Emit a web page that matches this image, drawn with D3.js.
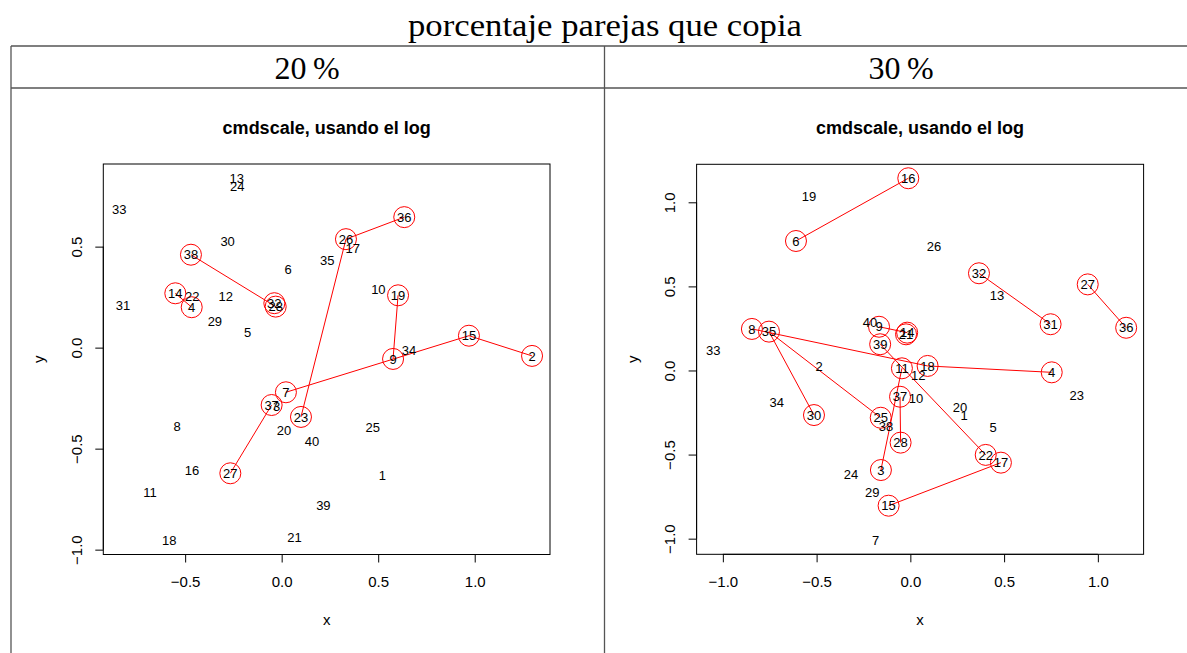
<!DOCTYPE html>
<html>
 <head>
 <title>cmdscale</title>
 <meta charset="UTF-8">
 <style type="text/css">
   body { margin: 0; background: #fff; }
   text { font-family: "Liberation Sans", Arial, sans-serif; }
 </style>
 <script src="https://d3js.org/d3.v7.min.js"></script>
 </head>
 <body>
 <script type="text/javascript">

    // point labels (same 40 individuals in both panels)
    var ids = [1,2,3,4,5,6,7,8,9,10,11,12,13,14,15,16,17,18,19,20,
               21,22,23,24,25,26,27,28,29,30,31,32,33,34,35,36,37,38,39,40];

    // 20% panel coordinates
    var x20 = [0.521,1.297,-0.026,-0.466,-0.176,0.034,0.022,-0.542,0.577,0.501,
               -0.682,-0.290,-0.233,-0.551,0.970,-0.465,0.368,-0.582,0.603,0.012,
               0.067,-0.463,0.100,-0.230,0.472,0.333,-0.266,-0.031,-0.346,-0.280,
               -0.822,-0.038,-0.841,0.660,0.236,0.635,-0.052,-0.470,0.216,0.157];
    var y20 = [-0.634,-0.041,-0.292,0.200,0.074,0.386,-0.221,-0.391,-0.056,0.287,
               -0.716,0.252,0.839,0.269,0.059,-0.605,0.492,-0.955,0.259,-0.407,
               -0.941,0.256,-0.343,0.800,-0.396,0.537,-0.622,0.203,0.129,0.525,
               0.208,0.220,0.687,-0.015,0.431,0.646,-0.284,0.460,-0.779,-0.465];
    var pairs20 = [[38,28],[14,4],[26,36],[26,23],[19,9],[7,15],[15,2],[37,27]];
    var ring20 = [38,32,28,14,4,26,36,23,19,9,7,15,2,37,27];

    // 30% panel coordinates
    var x30 = [0.287,-0.486,-0.157,0.754,0.442,-0.610,-0.185,-0.845,-0.167,0.030,
               -0.045,0.042,0.462,-0.017,-0.116,-0.011,0.483,0.092,-0.541,0.265,
               -0.023,0.402,0.887,-0.317,-0.158,0.126,0.946,-0.052,-0.203,-0.514,
               0.748,0.366,-1.051,-0.713,-0.754,1.151,-0.055,-0.130,-0.161,-0.215];
    var y30 = [-0.265,0.023,-0.592,-0.011,-0.340,0.770,-1.008,0.247,0.260,-0.165,
               0.013,-0.027,0.445,0.225,-0.804,1.143,-0.548,0.027,1.033,-0.219,
               0.215,-0.502,-0.146,-0.617,-0.281,0.736,0.512,-0.429,-0.724,-0.265,
               0.275,0.578,0.118,-0.191,0.231,0.254,-0.156,-0.334,0.156,0.287];
    var pairs30 = [[16,6],[32,31],[27,36],[8,18],[18,4],[35,30],[35,25],[9,14],
                   [39,22],[11,3],[37,28],[15,17]];
    var ring30 = [16,6,32,31,27,36,8,35,18,4,30,25,9,14,21,39,22,11,3,37,28,15,17];

    // axis ticks
    var xTicks20 = [-0.5, 0.0, 0.5, 1.0];
    var yTicks20 = [-1.0, -0.5, 0.0, 0.5];
    var xTicks30 = [-1.0, -0.5, 0.0, 0.5, 1.0];
    var yTicks30 = [-1.0, -0.5, 0.0, 0.5, 1.0];

    var mainTitle = "porcentaje parejas que copia";
    var colTitles = ["20\u2009%", "30\u2009%"];
    var plotTitle = "cmdscale, usando el log";

    var W = 1187, H = 653;

    var svg = d3.select("body")
        .append("svg")
        .attr("width", W)
        .attr("height", H);

    svg.append("rect").attr("width", W).attr("height", H).attr("fill", "#fff");

    // table frame
    var frame = svg.append("g")
        .attr("stroke", "#555")
        .attr("stroke-width", 1.3);
    frame.append("line").attr("x1", 11).attr("x2", W).attr("y1", 46).attr("y2", 46);
    frame.append("line").attr("x1", 11).attr("x2", W).attr("y1", 88).attr("y2", 88);
    frame.append("line").attr("x1", 11).attr("x2", 11).attr("y1", 46).attr("y2", H);
    frame.append("line").attr("x1", 604.5).attr("x2", 604.5).attr("y1", 46).attr("y2", H);

    svg.append("text")
        .attr("x", 605).attr("y", 36)
        .attr("text-anchor", "middle")
        .style("font-family", "'Liberation Serif', serif")
        .style("font-size", "32px")
        .attr("textLength", 394)
        .attr("lengthAdjust", "spacingAndGlyphs")
        .text(mainTitle);

    svg.append("text")
        .attr("x", 307).attr("y", 79)
        .attr("text-anchor", "middle")
        .style("font-family", "'Liberation Serif', serif")
        .style("font-size", "32px")
        .text(colTitles[0]);

    svg.append("text")
        .attr("x", 901).attr("y", 79)
        .attr("text-anchor", "middle")
        .style("font-family", "'Liberation Serif', serif")
        .style("font-size", "32px")
        .text(colTitles[1]);

    function drawPanel(p)
    {
        var x = d3.scaleLinear().domain(p.xDom).range([p.left, p.right]);
        var y = d3.scaleLinear().domain(p.yDom).range([p.bottom, p.top]);

        var g = svg.append("g");

        var pos = {};
        ids.forEach(function(id, i) { pos[id] = [x(p.xs[i]), y(p.ys[i])]; });

        // pair segments
        g.selectAll(".seg")
            .data(p.pairs)
            .enter().append("line")
            .attr("x1", function(d) { return pos[d[0]][0]; })
            .attr("y1", function(d) { return pos[d[0]][1]; })
            .attr("x2", function(d) { return pos[d[1]][0]; })
            .attr("y2", function(d) { return pos[d[1]][1]; })
            .attr("stroke", "#ff0000")
            .attr("stroke-width", 1);

        // circles around copying individuals
        g.selectAll(".ring")
            .data(p.ring)
            .enter().append("circle")
            .attr("cx", function(d) { return pos[d][0]; })
            .attr("cy", function(d) { return pos[d][1]; })
            .attr("r", 10.5)
            .attr("fill", "none")
            .attr("stroke", "#ff0000")
            .attr("stroke-width", 1);

        // labels
        g.selectAll(".lab")
            .data(ids)
            .enter().append("text")
            .attr("x", function(d) { return pos[d][0]; })
            .attr("y", function(d) { return pos[d][1]; })
            .attr("dy", "0.36em")
            .attr("text-anchor", "middle")
            .style("font-size", "13px")
            .attr("fill", "#000")
            .text(function(d) { return d; });

        // box
        g.append("rect")
            .attr("x", p.left).attr("y", p.top)
            .attr("width", p.right - p.left)
            .attr("height", p.bottom - p.top)
            .attr("fill", "none")
            .attr("stroke", "#000")
            .attr("stroke-width", 1);

        var fmt = function(d) { return d3.format(".1f")(d).replace("-", "\u2212"); };

        var xa = g.append("g")
            .attr("transform", "translate(0," + p.bottom + ")")
            .call(d3.axisBottom(x).tickValues(p.xTicks).tickFormat(fmt)
                  .tickSize(8).tickSizeOuter(0).tickPadding(14));
        xa.select(".domain").remove();
        xa.append("line")
            .attr("x1", x(p.xTicks[0])).attr("x2", x(p.xTicks[p.xTicks.length - 1]))
            .attr("stroke", "#000");
        xa.selectAll("text").style("font-size", "15px").style("font-family", "'Liberation Sans', Arial, sans-serif");

        var ya = g.append("g")
            .attr("transform", "translate(" + p.left + ",0)")
            .call(d3.axisLeft(y).tickValues(p.yTicks).tickFormat(fmt)
                  .tickSize(8).tickSizeOuter(0));
        ya.select(".domain").remove();
        ya.append("line")
            .attr("y1", y(p.yTicks[0])).attr("y2", y(p.yTicks[p.yTicks.length - 1]))
            .attr("stroke", "#000");
        ya.selectAll("text")
            .attr("transform", "rotate(-90)")
            .attr("x", 0).attr("y", -27).attr("dy", "0.36em")
            .attr("text-anchor", "middle")
            .style("font-size", "15px")
            .style("font-family", "'Liberation Sans', Arial, sans-serif");

        var cx = (p.left + p.right) / 2, cy = (p.top + p.bottom) / 2;

        g.append("text")
            .attr("x", cx).attr("y", 134)
            .attr("text-anchor", "middle")
            .style("font-size", "18px")
            .style("font-weight", "bold")
            .text(plotTitle);

        g.append("text")
            .attr("x", cx).attr("y", 625)
            .attr("text-anchor", "middle")
            .style("font-size", "15px")
            .text("x");

        g.append("text")
            .attr("transform", "translate(" + (p.left - 59) + "," + cy + ") rotate(-90)")
            .attr("text-anchor", "middle")
            .style("font-size", "15px")
            .text("y");
    }

    drawPanel({
        xs: x20, ys: y20, pairs: pairs20, ring: ring20,
        xTicks: xTicks20, yTicks: yTicks20,
        xDom: [-0.924, 1.390], yDom: [-1.024, 0.909],
        left: 103.3, right: 550, top: 164, bottom: 554.5
    });

    drawPanel({
        xs: x30, ys: y30, pairs: pairs30, ring: ring30,
        xTicks: xTicks30, yTicks: yTicks30,
        xDom: [-1.140, 1.244], yDom: [-1.093, 1.226],
        left: 696.6, right: 1143.6, top: 164.3, bottom: 554.3
    });

 </script>
 </body>
</html>
